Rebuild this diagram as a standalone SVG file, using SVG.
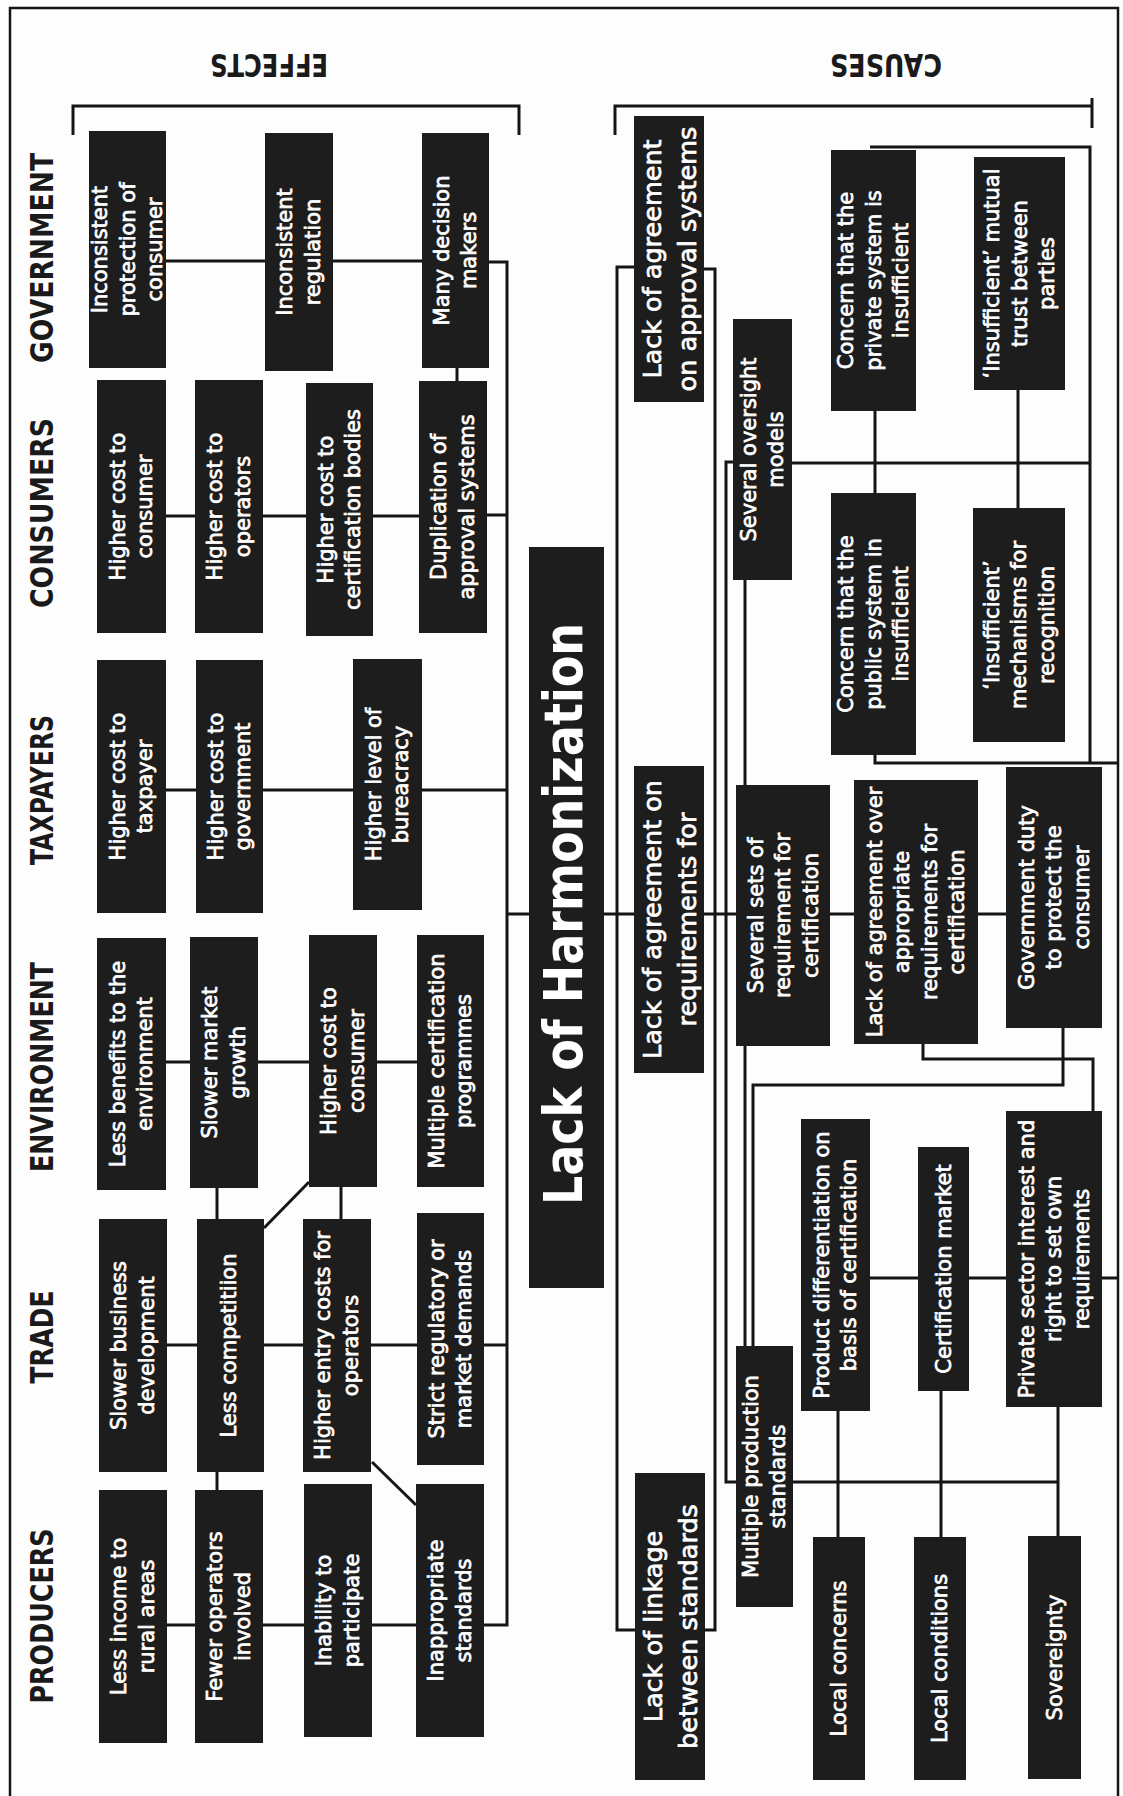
<svg xmlns="http://www.w3.org/2000/svg" width="1123" height="1796" viewBox="0 0 1123 1796">
<style>
.bg{fill:#fdfdfd}
.box{fill:#1d1d1d}
.t{font-family:"DejaVu Sans",sans-serif;font-size:21px;fill:#fff;stroke:#fff;stroke-width:0.7;text-anchor:middle}
.tl{font-size:25.5px}
.hd{font-family:"DejaVu Sans",sans-serif;font-weight:bold;font-size:32px;fill:#1a1a1a;text-anchor:middle}
.big{font-family:"DejaVu Sans",sans-serif;font-weight:bold;font-size:53px;fill:#fff;text-anchor:middle}
.ln{stroke:#151515;stroke-width:3;fill:none}
.bd{stroke:#151515;stroke-width:2.5;fill:none}
</style>
<rect class="bg" x="0" y="0" width="1123" height="1796"/>
<path class="bd" d="M10,1800 V8 H1118 V1800"/>

<g id="labels">
<text class="hd" transform="translate(269,54) rotate(180)" textLength="118" lengthAdjust="spacingAndGlyphs">EFFECTS</text>
<text class="hd" transform="translate(886,54) rotate(180)" textLength="112" lengthAdjust="spacingAndGlyphs">CAUSES</text>
<text class="hd" transform="translate(53,258) rotate(-90)" textLength="210" lengthAdjust="spacingAndGlyphs">GOVERNMENT</text>
<text class="hd" transform="translate(53,513) rotate(-90)" textLength="190" lengthAdjust="spacingAndGlyphs">CONSUMERS</text>
<text class="hd" transform="translate(53,790) rotate(-90)" textLength="150" lengthAdjust="spacingAndGlyphs">TAXPAYERS</text>
<text class="hd" transform="translate(53,1067) rotate(-90)" textLength="210" lengthAdjust="spacingAndGlyphs">ENVIRONMENT</text>
<text class="hd" transform="translate(53,1337) rotate(-90)" textLength="93" lengthAdjust="spacingAndGlyphs">TRADE</text>
<text class="hd" transform="translate(53,1616) rotate(-90)" textLength="175" lengthAdjust="spacingAndGlyphs">PRODUCERS</text>
</g>

<g id="connectors">
<path class="ln" d="M73,135 V106 H519 V135"/>
<path class="ln" d="M615,135 V106 H1092 M1092,98 V128"/>
<path class="ln" d="M166,261 H265 M333,261 H422 M489,262 H507 V1625 H484 M487,515 H507 M166,516 H195 M263,516 H306 M373,516 H419 M166,790 H196 M263,790 H353 M422,790 H507 M507,914 H529 M166,1062 H190 M258,1062 H309 M377,1062 H417 M167,1345 H197 M264,1345 H303 M371,1345 H417 M484,1345 H507 M167,1625 H195 M263,1625 H304 M372,1625 H416 M457,368 V381 M217,1188 V1219 M217,1472 V1490 M341,1187 V1219 M264,1228 L309,1182 M372,1462 L416,1505"/>
<path class="ln" d="M634,267 H617 V1630 H635 M704,269 H715 V1630 H705 M604,914 H634 M704,914 H736 M733,462 H726 V1482 H736 M745,580 V785 M745,1046 V1346 M830,914 H854 M978,914 H1006 M1063,1028 V1085 H753 V1346 M923,1044 V1059 H1093 V1111 M870,1278 H918 M969,1278 H1006 M1102,1278 H1118 M793,1482 H1058 M838,1411 V1537 M941,1391 V1537 M1058,1407 V1536 M870,147 H1090 V763 M875,755 V763 H1118 M875,411 V493 M1018,390 V508 M792,463 H1090"/>
</g>

<g id="lack-of-harmonization">
<rect class="box" x="529" y="547" width="75" height="741"/>
<text class="big" transform="translate(582,914) rotate(-90)" textLength="582" lengthAdjust="spacingAndGlyphs">Lack of Harmonization</text>
</g>

<g id="gov1"><rect class="box" x="89" y="131" width="77" height="237"/><text class="t" transform="translate(127.5,249.5) rotate(-90)"><tspan x="0" y="-20.5">Inconsistent</tspan><tspan x="0" y="7">protection of</tspan><tspan x="0" y="34.5">consumer</tspan></text></g>
<g id="gov2"><rect class="box" x="265" y="133" width="68" height="238"/><text class="t" transform="translate(299,252) rotate(-90)"><tspan x="0" y="-6.75">Inconsistent</tspan><tspan x="0" y="20.75">regulation</tspan></text></g>
<g id="gov3"><rect class="box" x="422" y="133" width="67" height="235"/><text class="t" transform="translate(455.5,250.5) rotate(-90)"><tspan x="0" y="-6.75">Many decision</tspan><tspan x="0" y="20.75">makers</tspan></text></g>

<g id="con1"><rect class="box" x="97" y="380" width="69" height="253"/><text class="t" transform="translate(131.5,506.5) rotate(-90)"><tspan x="0" y="-6.75">Higher cost to</tspan><tspan x="0" y="20.75">consumer</tspan></text></g>
<g id="con2"><rect class="box" x="195" y="380" width="68" height="253"/><text class="t" transform="translate(229,506.5) rotate(-90)"><tspan x="0" y="-6.75">Higher cost to</tspan><tspan x="0" y="20.75">operators</tspan></text></g>
<g id="con3"><rect class="box" x="306" y="383" width="67" height="253"/><text class="t" transform="translate(339.5,509.5) rotate(-90)"><tspan x="0" y="-6.75">Higher cost to</tspan><tspan x="0" y="20.75">certification bodies</tspan></text></g>
<g id="con4"><rect class="box" x="419" y="381" width="68" height="252"/><text class="t" transform="translate(453,507) rotate(-90)"><tspan x="0" y="-6.75">Duplication of</tspan><tspan x="0" y="20.75">approval systems</tspan></text></g>

<g id="tax1"><rect class="box" x="97" y="660" width="69" height="253"/><text class="t" transform="translate(131.5,786.5) rotate(-90)"><tspan x="0" y="-6.75">Higher cost to</tspan><tspan x="0" y="20.75">taxpayer</tspan></text></g>
<g id="tax2"><rect class="box" x="196" y="660" width="67" height="253"/><text class="t" transform="translate(229.5,786.5) rotate(-90)"><tspan x="0" y="-6.75">Higher cost to</tspan><tspan x="0" y="20.75">government</tspan></text></g>
<g id="tax3"><rect class="box" x="353" y="659" width="69" height="251"/><text class="t" transform="translate(387.5,784.5) rotate(-90)"><tspan x="0" y="-6.75">Higher level of</tspan><tspan x="0" y="20.75">bureacracy</tspan></text></g>

<g id="env1"><rect class="box" x="97" y="938" width="69" height="252"/><text class="t" transform="translate(131.5,1064) rotate(-90)"><tspan x="0" y="-6.75">Less benefits to the</tspan><tspan x="0" y="20.75">environment</tspan></text></g>
<g id="env2"><rect class="box" x="190" y="937" width="68" height="251"/><text class="t" transform="translate(224,1062.5) rotate(-90)"><tspan x="0" y="-6.75">Slower market</tspan><tspan x="0" y="20.75">growth</tspan></text></g>
<g id="env3"><rect class="box" x="309" y="935" width="68" height="252"/><text class="t" transform="translate(343,1061) rotate(-90)"><tspan x="0" y="-6.75">Higher cost to</tspan><tspan x="0" y="20.75">consumer</tspan></text></g>
<g id="env4"><rect class="box" x="417" y="935" width="67" height="252"/><text class="t" transform="translate(450.5,1061) rotate(-90)"><tspan x="0" y="-6.75">Multiple certification</tspan><tspan x="0" y="20.75">programmes</tspan></text></g>

<g id="tra1"><rect class="box" x="99" y="1219" width="68" height="253"/><text class="t" transform="translate(133,1345.5) rotate(-90)"><tspan x="0" y="-6.75">Slower business</tspan><tspan x="0" y="20.75">development</tspan></text></g>
<g id="tra2"><rect class="box" x="197" y="1219" width="67" height="253"/><text class="t" transform="translate(230.5,1345.5) rotate(-90)"><tspan x="0" y="5">Less competitiion</tspan></text></g>
<g id="tra3"><rect class="box" x="303" y="1219" width="68" height="253"/><text class="t" transform="translate(337,1345.5) rotate(-90)"><tspan x="0" y="-6.75">Higher entry costs for</tspan><tspan x="0" y="20.75">operators</tspan></text></g>
<g id="tra4"><rect class="box" x="417" y="1213" width="67" height="252"/><text class="t" transform="translate(450.5,1339) rotate(-90)"><tspan x="0" y="-6.75">Strict regulatory or</tspan><tspan x="0" y="20.75">market demands</tspan></text></g>

<g id="pro1"><rect class="box" x="99" y="1490" width="68" height="253"/><text class="t" transform="translate(133,1616.5) rotate(-90)"><tspan x="0" y="-6.75">Less income to</tspan><tspan x="0" y="20.75">rural areas</tspan></text></g>
<g id="pro2"><rect class="box" x="195" y="1490" width="68" height="253"/><text class="t" transform="translate(229,1616.5) rotate(-90)"><tspan x="0" y="-6.75">Fewer operators</tspan><tspan x="0" y="20.75">involved</tspan></text></g>
<g id="pro3"><rect class="box" x="304" y="1484" width="68" height="253"/><text class="t" transform="translate(338,1610.5) rotate(-90)"><tspan x="0" y="-6.75">Inability to</tspan><tspan x="0" y="20.75">participate</tspan></text></g>
<g id="pro4"><rect class="box" x="416" y="1484" width="68" height="253"/><text class="t" transform="translate(450,1610.5) rotate(-90)"><tspan x="0" y="-6.75">Inappropriate</tspan><tspan x="0" y="20.75">standards</tspan></text></g>

<g id="approval"><rect class="box" x="634" y="116" width="70" height="286"/><text class="t tl" transform="translate(669,259) rotate(-90)"><tspan x="0" y="-8.2">Lack of agreement</tspan><tspan x="0" y="26.8">on approval systems</tspan></text></g>
<g id="requirements"><rect class="box" x="634" y="766" width="70" height="307"/><text class="t tl" transform="translate(669,919.5) rotate(-90)"><tspan x="0" y="-8.2">Lack of agreement on</tspan><tspan x="0" y="26.8">requirements for</tspan></text></g>
<g id="linkage"><rect class="box" x="635" y="1473" width="70" height="307"/><text class="t tl" transform="translate(670,1626.5) rotate(-90)"><tspan x="0" y="-8.2">Lack of linkage</tspan><tspan x="0" y="26.8">between standards</tspan></text></g>

<g id="oversight"><rect class="box" x="733" y="319" width="59" height="261"/><text class="t" transform="translate(762.5,449.5) rotate(-90)"><tspan x="0" y="-6.75">Several oversight</tspan><tspan x="0" y="20.75">models</tspan></text></g>
<g id="sets"><rect class="box" x="736" y="785" width="94" height="261"/><text class="t" transform="translate(783,915.5) rotate(-90)"><tspan x="0" y="-20.5">Several sets of</tspan><tspan x="0" y="7">requirement for</tspan><tspan x="0" y="34.5">certification</tspan></text></g>
<g id="production"><rect class="box" x="736" y="1346" width="57" height="261"/><text class="t" transform="translate(764.5,1476.5) rotate(-90)"><tspan x="0" y="-6.75">Multiple production</tspan><tspan x="0" y="20.75">standards</tspan></text></g>

<g id="private-concern"><rect class="box" x="831" y="150" width="85" height="261"/><text class="t" transform="translate(873.5,280.5) rotate(-90)"><tspan x="0" y="-20.5">Concern that the</tspan><tspan x="0" y="7">private system is</tspan><tspan x="0" y="34.5">insufficient</tspan></text></g>
<g id="public-concern"><rect class="box" x="831" y="493" width="85" height="262"/><text class="t" transform="translate(873.5,624) rotate(-90)"><tspan x="0" y="-20.5">Concern that the</tspan><tspan x="0" y="7">public system in</tspan><tspan x="0" y="34.5">insufficient</tspan></text></g>
<g id="trust"><rect class="box" x="974" y="157" width="91" height="233"/><text class="t" transform="translate(1019.5,273.5) rotate(-90)"><tspan x="0" y="-20.5">‘Insufficient’ mutual</tspan><tspan x="0" y="7">trust between</tspan><tspan x="0" y="34.5">parties</tspan></text></g>
<g id="mechanisms"><rect class="box" x="973" y="508" width="92" height="234"/><text class="t" transform="translate(1019,625) rotate(-90)"><tspan x="0" y="-20.5">‘Insufficient’</tspan><tspan x="0" y="7">mechanisms for</tspan><tspan x="0" y="34.5">recognition</tspan></text></g>
<g id="agreement-over"><rect class="box" x="854" y="780" width="124" height="264"/><text class="t" transform="translate(916,912) rotate(-90)"><tspan x="0" y="-34.25">Lack of agreement over</tspan><tspan x="0" y="-6.75">appropriate</tspan><tspan x="0" y="20.75">requirements for</tspan><tspan x="0" y="48.25">certification</tspan></text></g>
<g id="gov-duty"><rect class="box" x="1006" y="767" width="96" height="261"/><text class="t" transform="translate(1054,897.5) rotate(-90)"><tspan x="0" y="-20.5">Government duty</tspan><tspan x="0" y="7">to protect the</tspan><tspan x="0" y="34.5">consumer</tspan></text></g>
<g id="product-diff"><rect class="box" x="801" y="1119" width="69" height="292"/><text class="t" transform="translate(835.5,1265) rotate(-90)"><tspan x="0" y="-6.75">Product differentiation on</tspan><tspan x="0" y="20.75">basis of certification</tspan></text></g>
<g id="cert-market"><rect class="box" x="918" y="1147" width="51" height="244"/><text class="t" transform="translate(943.5,1269) rotate(-90)"><tspan x="0" y="7">Certification market</tspan></text></g>
<g id="private-sector"><rect class="box" x="1006" y="1111" width="96" height="296"/><text class="t" transform="translate(1054,1259) rotate(-90)"><tspan x="0" y="-20.5">Private sector interest and</tspan><tspan x="0" y="7">right to set own</tspan><tspan x="0" y="34.5">requirements</tspan></text></g>
<g id="local-concerns"><rect class="box" x="813" y="1537" width="52" height="243"/><text class="t" transform="translate(839,1658.5) rotate(-90)"><tspan x="0" y="7">Local concerns</tspan></text></g>
<g id="local-conditions"><rect class="box" x="914" y="1537" width="52" height="243"/><text class="t" transform="translate(940,1658.5) rotate(-90)"><tspan x="0" y="7">Local conditions</tspan></text></g>
<g id="sovereignty"><rect class="box" x="1028" y="1536" width="53" height="243"/><text class="t" transform="translate(1054.5,1657.5) rotate(-90)"><tspan x="0" y="7">Sovereignty</tspan></text></g>
</svg>
